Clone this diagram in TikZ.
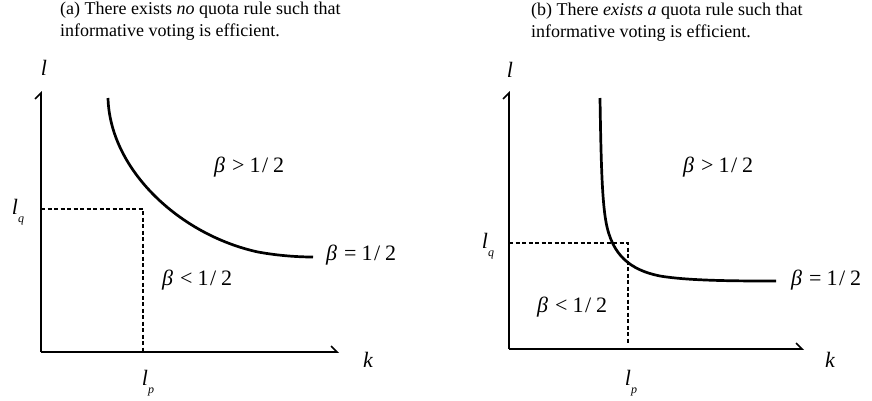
\documentclass[tikz,border=0pt]{standalone}
\usepackage{fontspec}
\setmainfont{Liberation Serif}
\usetikzlibrary{arrows.meta}
\newcommand{\relsym}[1]{\textit{β}\hspace{7pt}#1\hspace{5pt}1\hspace{1.5pt}/\hspace{5pt}2}
\begin{document}
\begin{tikzpicture}[x=1pt,y=-1pt,
  axis/.style={line width=2pt,-{Straight Barb[left,length=6pt,width=12pt,line width=1.6pt]}},
  curve/.style={line width=2.7pt},
  guide/.style={line width=1.4pt,dash pattern=on 4pt off 2.5pt},
  captext/.style={font=\fontsize{18}{22}\selectfont,align=left,anchor=north west,inner sep=0pt},
  lab/.style={font=\fontsize{22}{22}\selectfont\itshape,inner sep=0pt},
  rel/.style={font=\fontsize{22}{22}\selectfont,inner sep=0pt,anchor=west}]
\useasboundingbox (0,0) rectangle (872,400);
% ---------- panel (a)
\node[captext] (capa) at (60,2) {(a) There exists \textit{no} quota rule such that\\informative voting is efficient.};
\coordinate (oa) at (41,352);
\coordinate (ta) at (41,91);
\coordinate (ra) at (339,352);
\draw[axis] (oa) -- (ta);
\draw[axis] (oa) -- (ra);
\node[lab] (la) at (44,68) {l};
\node[lab] (ka) at (368,360) {k};
\draw[curve] (108,98) .. controls (110,170) and (180,235) .. (258,252) .. controls (280,256) and (300,257) .. (313,257);
\coordinate (qa) at (41,209);
\coordinate (ca) at (143,209);
\coordinate (pa) at (143,352);
\draw[guide] (qa) -- (ca) -- (pa);
\node[lab] (lqa) at (18,212) {l\raisebox{-0.35em}{\fontsize{12}{12}\selectfont q}};
\node[lab] (lpa) at (148,383) {l\raisebox{-0.35em}{\fontsize{12}{12}\selectfont p}};
\node[rel] (gta) at (214,167) {\relsym{>}};
\node[rel] (eqa) at (326,255) {\relsym{=}};
\node[rel] (lta) at (162,280) {\relsym{<}};
% ---------- panel (b)
\node[captext] (capb) at (531,3) {(b) There \textit{exists a} quota rule such that\\informative voting is efficient.};
\coordinate (ob) at (509,349);
\coordinate (tb) at (509,91);
\coordinate (rb) at (804,349);
\draw[axis] (ob) -- (tb);
\draw[axis] (ob) -- (rb);
\node[lab] (lb) at (510,70) {l};
\node[lab] (kb) at (830,360) {k};
\draw[curve] (600,98) .. controls (601,160) and (602,200) .. (606,222) .. controls (612,255) and (630,270) .. (660,276) .. controls (690,281) and (740,281) .. (776,281);
\coordinate (qb) at (509,243);
\coordinate (cb) at (628,243);
\coordinate (pb) at (628,343);
\draw[guide] (qb) -- (cb) -- (pb);
\node[lab] (lqb) at (488,246) {l\raisebox{-0.35em}{\fontsize{12}{12}\selectfont q}};
\node[lab] (lpb) at (631,383) {l\raisebox{-0.35em}{\fontsize{12}{12}\selectfont p}};
\node[rel] (gtb) at (683,167) {\relsym{>}};
\node[rel] (eqb) at (791,280) {\relsym{=}};
\node[rel] (ltb) at (537,307) {\relsym{<}};
\end{tikzpicture}
\end{document}
